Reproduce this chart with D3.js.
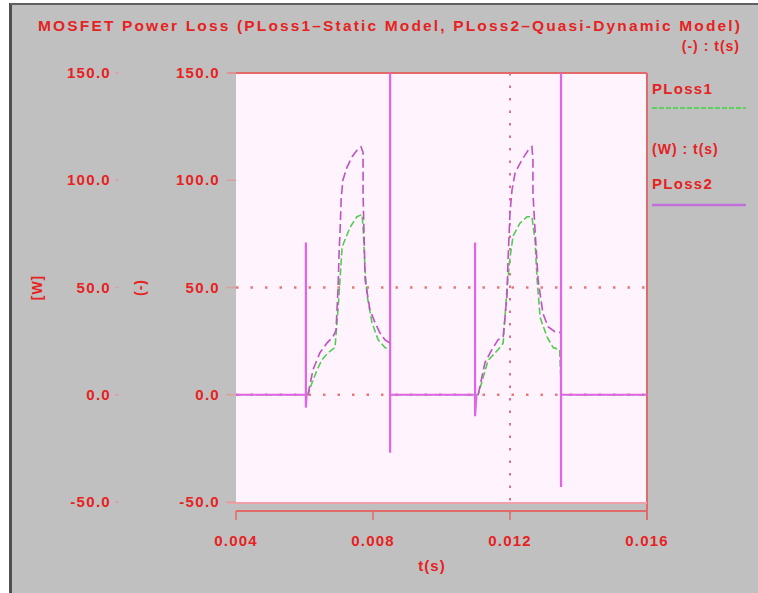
<!DOCTYPE html>
<html><head><meta charset="utf-8">
<script src="https://cdn.jsdelivr.net/npm/d3@7"></script>
<style>
html,body{margin:0;padding:0;background:#fff;}
svg{display:block;}
text{font-family:"Liberation Sans",Arial,sans-serif;font-weight:bold;fill:#e62222;}
</style></head>
<body>
<svg id="chart" width="758" height="593"></svg>
<script>
// ---- data ----
const titleText = "MOSFET Power Loss (PLoss1\u2013Static Model, PLoss2\u2013Quasi-Dynamic Model)";
const xTicks = [0.004, 0.008, 0.012, 0.016];
const yTicks = [-50, 0, 50, 100, 150];
const gridY = [0, 50];
const gridX = [0.012];
const seriesNames = ["PLoss1", "PLoss2"];
const legendUnits = ["(-) : t(s)", "(W) : t(s)"];
const pulseStart = [0.0061, 0.01107];
const pulseEnd = [0.00849, 0.01346];

// PLoss1 (static model) [t, W]
const ploss1 = [
  [0.004,0],[0.0061,0],[0.00622,5.6],[0.00637,11.7],[0.00651,16.3],[0.00669,19.6],[0.00689,22],
  [0.00698,40],[0.0071,69],[0.00733,78],[0.00753,83],[0.00768,84],[0.00771,78],[0.00777,58],
  [0.00783,46],[0.00797,33.6],[0.00815,25.6],[0.00835,22],[0.00849,21],[0.0085,0],
  [0.01107,0],[0.01136,16],[0.01165,21],[0.0118,24],[0.01191,49],[0.012,64],[0.01209,74],
  [0.01229,80],[0.0125,83],[0.01264,83],[0.01273,72],[0.01279,54],[0.01288,36],[0.01308,27],
  [0.01326,22],[0.01345,21],[0.0135,0],[0.016,0]
];

// PLoss2 (quasi-dynamic model) [t, W]
const ploss2 = [
  [0.004,0],[0.00604,0],[0.00604,71],[0.00604,-6],[0.00606,0],
  [0.0061,0],[0.00625,11.7],[0.00645,19.6],[0.00666,24.2],[0.00683,27],[0.00692,30],[0.00698,50],
  [0.00701,66],[0.00704,77],[0.00707,91],[0.00712,100],[0.00724,106],[0.00739,111],[0.00753,114],
  [0.00765,115.6],[0.00771,113],[0.00771,94],[0.00777,53.6],[0.00791,39.6],[0.00806,33.6],
  [0.0082,28.9],[0.00835,25.6],[0.00849,24.2],
  [0.0085,150],[0.0085,-27],[0.0085,0],
  [0.01098,0],[0.01098,71],[0.01098,-10],[0.01102,0],
  [0.01107,0],[0.01127,15],[0.01147,21],[0.01165,25.6],[0.0118,27],[0.01191,45.7],[0.01194,61.5],
  [0.012,85],[0.01206,95.6],[0.01215,103.5],[0.01235,109.6],[0.01253,114],[0.01264,115.6],
  [0.01267,109.6],[0.01267,94],[0.01273,77],[0.01282,53.6],[0.01296,38],[0.01311,31.7],
  [0.01331,29.4],[0.01346,29],
  [0.01349,150],[0.01349,-43],[0.01349,0],[0.016,0]
];

// ---- drawing ----
const svg = d3.select("#chart");
const W = 758, H = 593;
const plot = {left:236, right:647, top:73, bottom:502};
const x = d3.scaleLinear().domain([0.004, 0.016]).range([plot.left, plot.right]);
const y = d3.scaleLinear().domain([-50, 150]).range([plot.bottom, plot.top]);
const axisRed = "#e26a6a";

// frame background
svg.append("rect").attr("x",0).attr("y",0).attr("width",W).attr("height",H).attr("fill","#fff");
svg.append("rect").attr("x",10).attr("y",3).attr("width",W-10).attr("height",H-3).attr("fill","#c0c0c0");
svg.append("line").attr("x1",10.5).attr("x2",10.5).attr("y1",3).attr("y2",H).attr("stroke","#505050").attr("stroke-width",3);
svg.append("line").attr("x1",10).attr("x2",W).attr("y1",4).attr("y2",4).attr("stroke","#606060").attr("stroke-width",2);

// plot area
svg.append("rect").attr("x",plot.left).attr("y",plot.top)
  .attr("width",plot.right-plot.left).attr("height",plot.bottom-plot.top).attr("fill","#fff4fd");

svg.append("clipPath").attr("id","clipP").append("rect")
  .attr("x",plot.left).attr("y",plot.top).attr("width",plot.right-plot.left).attr("height",plot.bottom-plot.top);

// grid
svg.append("g").selectAll("line").data(gridY).join("line")
  .attr("x1",plot.left).attr("x2",plot.right).attr("y1",d=>y(d)).attr("y2",d=>y(d))
  .attr("stroke","#e87878").attr("stroke-width",2.5).attr("stroke-dasharray","2.5,12");
svg.append("g").selectAll("line").data(gridX).join("line")
  .attr("x1",d=>x(d)).attr("x2",d=>x(d)).attr("y1",plot.top).attr("y2",plot.bottom+18)
  .attr("stroke","#e07090").attr("stroke-width",2).attr("stroke-dasharray","2.5,10");

// frame lines
svg.append("line").attr("x1",plot.left-8).attr("x2",plot.right).attr("y1",plot.top).attr("y2",plot.top)
  .attr("stroke",axisRed).attr("stroke-width",2);
svg.append("line").attr("x1",plot.right).attr("x2",plot.right).attr("y1",plot.top).attr("y2",plot.bottom+18)
  .attr("stroke",axisRed).attr("stroke-width",2);
svg.append("line").attr("x1",plot.left-8).attr("x2",plot.right).attr("y1",plot.bottom+1).attr("y2",plot.bottom+1)
  .attr("stroke","#f0a0a8").attr("stroke-width",2);
svg.append("line").attr("x1",plot.left).attr("x2",plot.right).attr("y1",plot.bottom+9).attr("y2",plot.bottom+9)
  .attr("stroke",axisRed).attr("stroke-width",2);

// x axis ticks & labels
const xg = svg.append("g");
xg.selectAll("line").data(xTicks).join("line")
  .attr("x1",d=>x(d)).attr("x2",d=>x(d)).attr("y1",plot.bottom+9).attr("y2",plot.bottom+18)
  .attr("stroke",axisRed).attr("stroke-width",1.5);
xg.selectAll("text").data(xTicks).join("text")
  .attr("x",d=>x(d)).attr("y",546).attr("text-anchor","middle")
  .attr("font-size",15).attr("letter-spacing",1.2)
  .text(d=>d3.format(".3f")(d));
svg.append("text").attr("x",432).attr("y",571).attr("text-anchor","middle")
  .attr("font-size",15).attr("letter-spacing",1).text("t(s)");

// y axes (inner and outer)
const fmtY = d => d3.format(".1f")(d).replace("\u2212","-");
const yg = svg.append("g");
yg.selectAll("text.in").data(yTicks).join("text").attr("class","in")
  .attr("x",220).attr("y",d=>y(d)+5).attr("text-anchor","end")
  .attr("font-size",15).attr("letter-spacing",1.3).text(d=>fmtY(d));
yg.selectAll("line.in").data(yTicks).join("line").attr("class","in")
  .attr("x1",226).attr("x2",plot.left).attr("y1",d=>y(d)).attr("y2",d=>y(d))
  .attr("stroke","#d8a0a0").attr("stroke-width",1.5);
yg.selectAll("text.out").data(yTicks).join("text").attr("class","out")
  .attr("x",111).attr("y",d=>y(d)+5).attr("text-anchor","end")
  .attr("font-size",15).attr("letter-spacing",1.3).text(d=>fmtY(d));
yg.selectAll("line.out").data(yTicks).join("line").attr("class","out")
  .attr("x1",115).attr("x2",119).attr("y1",d=>y(d)).attr("y2",d=>y(d))
  .attr("stroke","#d8a0a0").attr("stroke-width",1.5);
svg.append("text").attr("transform",`translate(42,${y(50)}) rotate(-90)`).attr("text-anchor","middle")
  .attr("font-size",14).attr("letter-spacing",1).text("[W]");
svg.append("text").attr("transform",`translate(145,${y(50)}) rotate(-90)`).attr("text-anchor","middle")
  .attr("font-size",14).attr("letter-spacing",1).text("(-)");

// title & legend
svg.append("text").attr("x",38).attr("y",31).attr("font-size",15.5)
  .attr("textLength",702).attr("lengthAdjust","spacing").text(titleText);
svg.append("text").attr("x",740).attr("y",51).attr("text-anchor","end").attr("font-size",14)
  .attr("letter-spacing",1).text(legendUnits[0]);
svg.append("text").attr("x",652).attr("y",94).attr("font-size",15).attr("letter-spacing",1.3).text(seriesNames[0]);
svg.append("line").attr("x1",652).attr("x2",746).attr("y1",108).attr("y2",108)
  .attr("stroke","#5cd05c").attr("stroke-width",2).attr("stroke-dasharray","5,2");
svg.append("text").attr("x",652).attr("y",154).attr("font-size",14).attr("letter-spacing",1).text(legendUnits[1]);
svg.append("text").attr("x",652).attr("y",189).attr("font-size",15).attr("letter-spacing",1.3).text(seriesNames[1]);
svg.append("line").attr("x1",652).attr("x2",746).attr("y1",205).attr("y2",205)
  .attr("stroke","#c070d8").attr("stroke-width",2.5);

// series
const inPulse = d => pulseStart.some((s,i)=> d[0] >= s && d[0] <= pulseEnd[i]);
const lineAll = d3.line().x(d=>x(d[0])).y(d=>y(d[1]));
const g = svg.append("g").attr("clip-path","url(#clipP)");

g.append("path").datum(ploss1).attr("d",lineAll).attr("fill","none")
  .attr("stroke","#52cc52").attr("stroke-width",1.6).attr("stroke-dasharray","7,3");

const solidLine = d3.line().defined(d=>!inPulse(d)).x(d=>x(d[0])).y(d=>y(d[1]));
const dashLine = d3.line().defined(d=>inPulse(d)).x(d=>x(d[0])).y(d=>y(d[1]));
g.append("path").datum(ploss2).attr("d",solidLine).attr("fill","none")
  .attr("stroke","#e064e8").attr("stroke-width",2.2);
g.append("path").datum(ploss2).attr("d",dashLine).attr("fill","none")
  .attr("stroke","#c050c4").attr("stroke-width",1.6).attr("stroke-dasharray","9,4");
</script>
</body></html>
